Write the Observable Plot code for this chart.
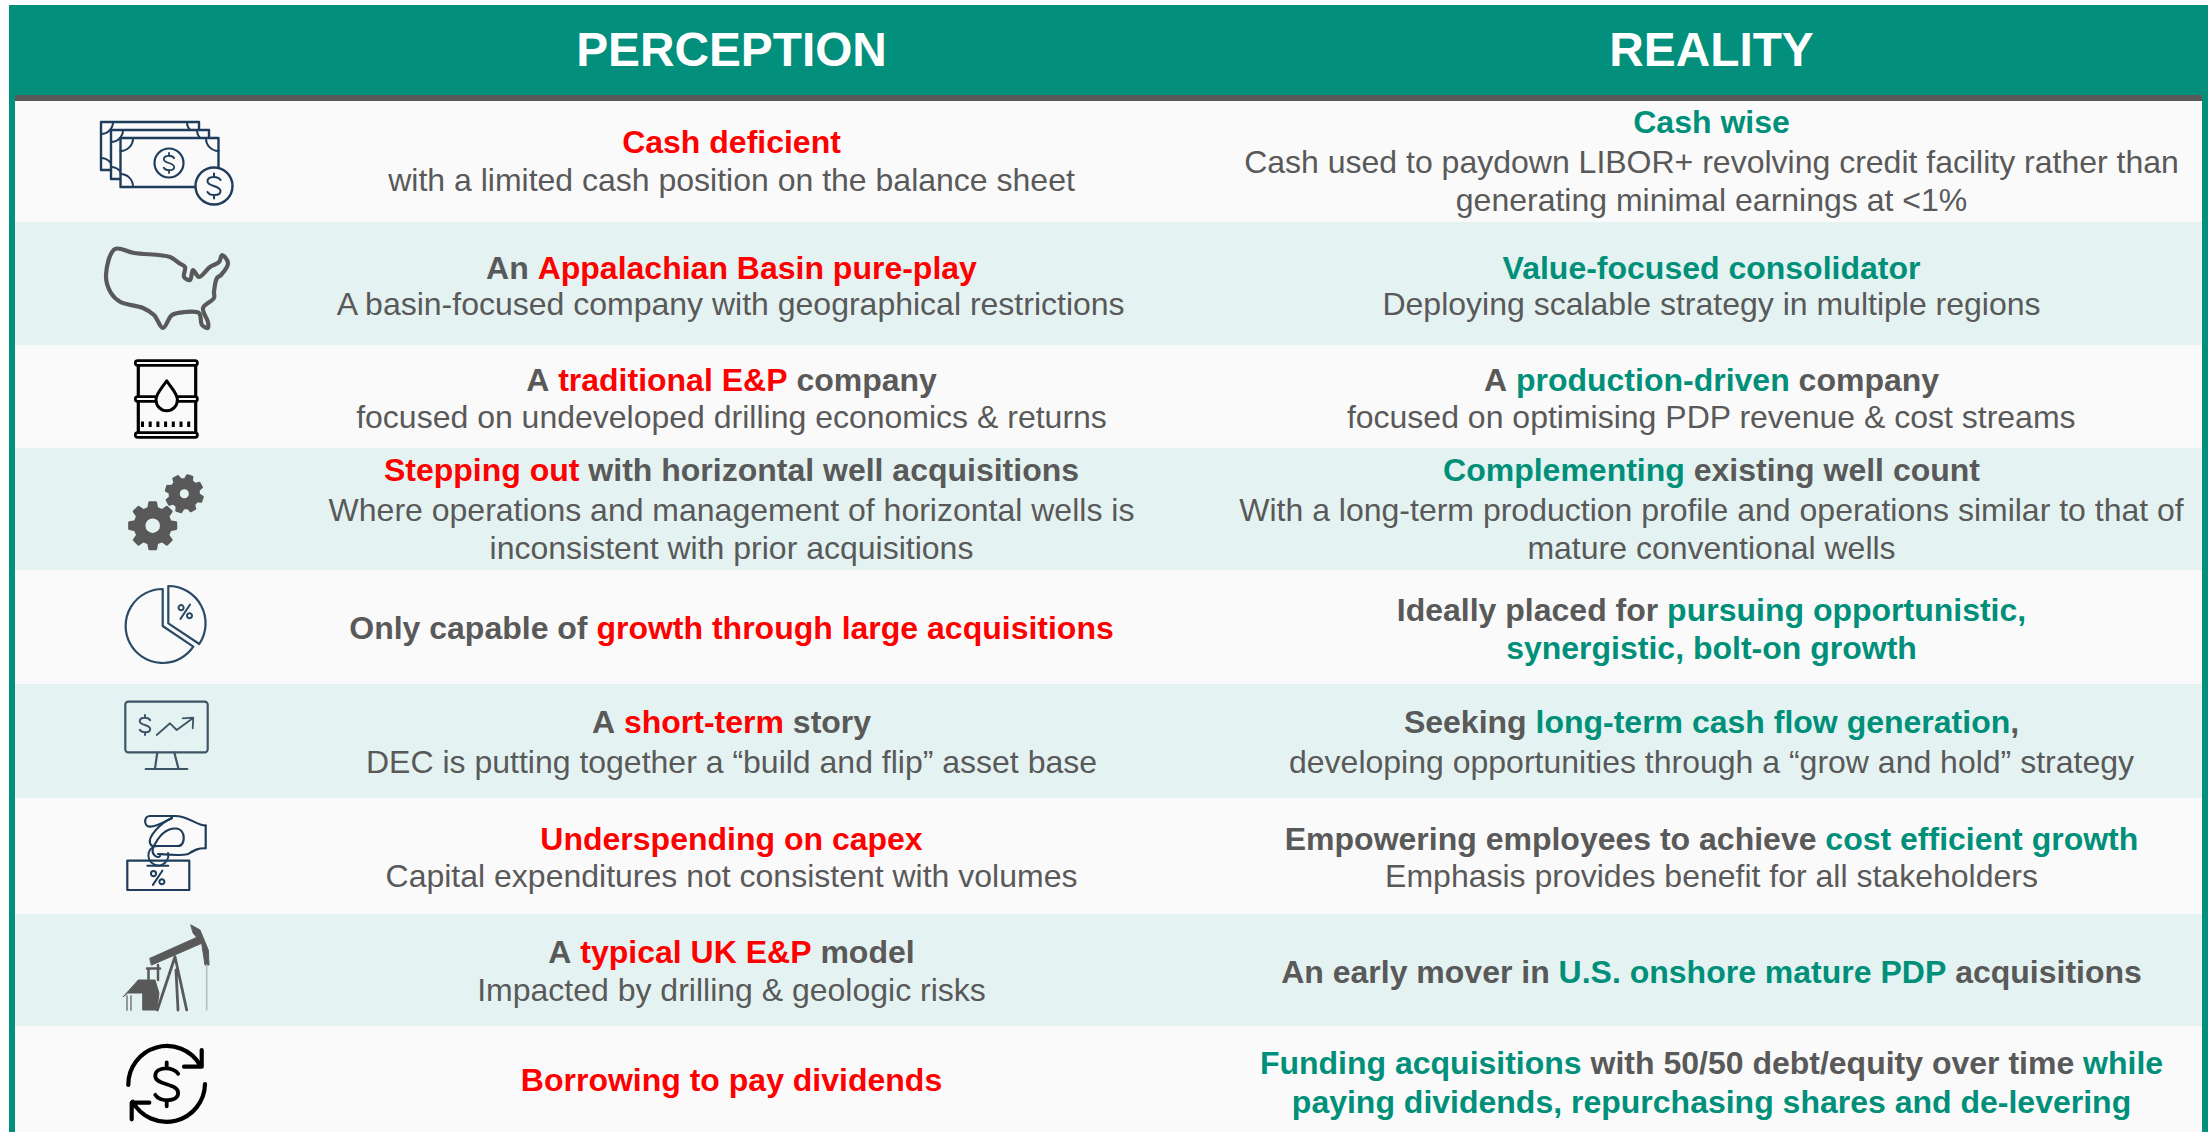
<!DOCTYPE html>
<html><head><meta charset="utf-8">
<script src="https://cdn.jsdelivr.net/npm/d3@7"></script>
<script src="https://cdn.jsdelivr.net/npm/@observablehq/plot@0.6"></script>
<style>html,body{margin:0;padding:0;background:#fff;overflow:hidden}</style>
</head><body><div id="chart"></div>
<script>
// ---- content -------------------------------------------------------------
const columnTitles = ["PERCEPTION", "REALITY"];
// {braces} mark the highlighted words in a line
const perceptionLead = [
  ["{Cash deficient}"],
  ["An {Appalachian Basin pure-play}"],
  ["A {traditional E&P} company"],
  ["{Stepping out} with horizontal well acquisitions"],
  ["Only capable of {growth through large acquisitions}"],
  ["A {short-term} story"],
  ["{Underspending on capex}"],
  ["A {typical UK E&P} model"],
  ["{Borrowing to pay dividends}"]
];
const perceptionBody = [
  ["with a limited cash position on the balance sheet"],
  ["A basin-focused company with geographical restrictions"],
  ["focused on undeveloped drilling economics & returns"],
  ["Where operations and management of horizontal wells is", "inconsistent with prior acquisitions"],
  [],
  ["DEC is putting together a “build and flip” asset base"],
  ["Capital expenditures not consistent with volumes"],
  ["Impacted by drilling & geologic risks"],
  []
];
const realityLead = [
  ["{Cash wise}"],
  ["{Value-focused consolidator}"],
  ["A {production-driven} company"],
  ["{Complementing} existing well count"],
  ["Ideally placed for {pursuing opportunistic,}", "{synergistic, bolt-on growth}"],
  ["Seeking {long-term cash flow generation},"],
  ["Empowering employees to achieve {cost efficient growth}"],
  ["An early mover in {U.S. onshore mature PDP} acquisitions"],
  ["{Funding acquisitions} with 50/50 debt/equity over time {while}", "{paying dividends, repurchasing shares and de-levering}"]
];
const realityBody = [
  ["Cash used to paydown LIBOR+ revolving credit facility rather than", "generating minimal earnings at <1%"],
  ["Deploying scalable strategy in multiple regions"],
  ["focused on optimising PDP revenue & cost streams"],
  ["With a long-term production profile and operations similar to that of", "mature conventional wells"],
  [],
  ["developing opportunities through a “grow and hold” strategy"],
  ["Emphasis provides benefit for all stakeholders"],
  []  ,
  []
];

// ---- layout --------------------------------------------------------------
const W = 2208, H = 1132;
const rowEdges = [101, 222, 345, 448, 570, 684, 798, 914, 1026, 1132];
const columnCentres = [731, 1711];
const perceptionLineY = [[142,180],[268,304],[380,417],[470,510,548],[628],[722,762],[839,876],[952,990],[1080]];
const realityLineY = [[122,162,200],[268,304],[380,417],[470,510,548],[610,648],[722,762],[839,876],[972],[1063,1102]];
const FONT = "Liberation Sans";
const BODY = 32, TITLE = 47.8;
const tones = ["plain", "bad", "good"];
const toneColours = ["#595959", "#FF0000", "#00907A"];
const TEAL = "#028F7B", GREY = "#595959", PAPER = "#FAFAFA", TINT = "#E4F3F1";
const NAVY = "#1F3D5A";

// ---- text runs -----------------------------------------------------------
const ctx = document.createElement("canvas").getContext("2d");
const textWidth = (s, weight) => { ctx.font = `${weight} ${BODY}px "${FONT}"`; return ctx.measureText(s).width; };
function parseRuns(line, accent) {
  return line.split(/(\{[^}]*\})/).filter(s => s).map(s =>
    s[0] === "{" ? {text: s.slice(1, -1), tone: accent} : {text: s, tone: "plain"});
}
function layoutColumn(lead, body, lineY, cx, accent) {
  const out = [];
  lead.forEach((rowLead, r) => {
    const lines = [...rowLead.map(l => ({l, bold: true})), ...body[r].map(l => ({l, bold: false}))];
    lines.forEach(({l, bold}, i) => {
      const w = bold ? "bold" : "normal";
      const runs = parseRuns(l, accent);
      const total = runs.reduce((a, q) => a + textWidth(q.text, w), 0);
      let x = cx - total / 2;
      for (const q of runs) { out.push({...q, bold, x, y: lineY[r][i]}); x += textWidth(q.text, w); }
    });
  });
  return out;
}
const runs = [
  ...layoutColumn(perceptionLead, perceptionBody, perceptionLineY, columnCentres[0], "bad"),
  ...layoutColumn(realityLead, realityBody, realityLineY, columnCentres[1], "good")
];

// ---- pictograms ----------------------------------------------------------
const circ = (x, y, r) => `M${x-r},${y}a${r},${r} 0 1 0 ${2*r},0a${r},${r} 0 1 0 ${-2*r},0Z`;
const box = (x, y, w, h) => `M${x},${y}h${w}v${h}h${-w}Z`;
function dollar(cx, cy, h) {
  const w = h * 0.52;
  return `M${cx+w/2},${cy-h*.24}C${cx+w/3},${cy-h*.4} ${cx-w/2},${cy-h*.42} ${cx-w/2},${cy-h*.19}` +
    `C${cx-w/2},${cy+h*.03} ${cx+w/2},${cy-h*.03} ${cx+w/2},${cy+h*.2}` +
    `C${cx+w/2},${cy+h*.42} ${cx-w/3},${cy+h*.4} ${cx-w/2},${cy+h*.24}` +
    `M${cx},${cy-h/2}V${cy-h*.36}M${cx},${cy+h*.36}V${cy+h/2}`;
}
const pct = (cx, cy, s) => circ(cx-s*.28, cy-s*.27, s*.17) + circ(cx+s*.28, cy+s*.27, s*.17) + `M${cx+s*.32},${cy-s*.48}L${cx-s*.32},${cy+s*.48}`;
function gear(cx, cy, outer, root, hole, n, rot) {
  const st = 2 * Math.PI / n; let d = "";
  for (let i = 0; i < n; i++) {
    const a = rot + i * st;
    const p = (r, t) => `${cx + r * Math.cos(t)},${cy + r * Math.sin(t)}`;
    d += (i ? "L" : "M") + p(root, a - st*.30) + "L" + p(outer, a - st*.17) + "L" + p(outer, a + st*.17) + "L" + p(root, a + st*.30);
  }
  return d + "Z" + circ(cx, cy, hole);
}
const mapOutline = [[15,4],[34,8],[70,12],[79,18],[85,22],[84,32],[90,35],[93,25],[99,32],[110,22],[119,17],[122,10],[128,18],[121,30],[117,33],[114,47],[114,53],[103,63],[108,77],[108,83],[102,80],[99,68],[85,67],[72,70],[63,83],[54,70],[43,63],[20.5,57],[11,48],[6,30]];
const mapPath = d3.line().curve(d3.curveCatmullRomClosed.alpha(0.5))(mapOutline);
const icons = [
  {at: [100, 120], parts: [
    {d: box(1,2,98,48), fill: PAPER, stroke: NAVY, w: 2.4},
    {d: "M1,14A12,12 0 0 0 13,2M87,2A12,12 0 0 0 99,14M1,38A12,12 0 0 1 13,50", stroke: NAVY, w: 2},
    {d: box(11,10,98,49), fill: PAPER, stroke: NAVY, w: 2.4},
    {d: "M11,22A12,12 0 0 0 23,10M97,10A12,12 0 0 0 109,22M11,47A12,12 0 0 1 23,59", stroke: NAVY, w: 2},
    {d: box(20.5,18,98,49), fill: PAPER, stroke: NAVY, w: 2.4},
    {d: "M20.5,31A12.5,12.5 0 0 0 33,18M106,18A12.5,12.5 0 0 0 118.5,31M20.5,54A12.5,12.5 0 0 1 33,67", stroke: NAVY, w: 2},
    {d: circ(69,43,14.5), stroke: NAVY, w: 2.2},
    {d: dollar(69,43,20), stroke: NAVY, w: 1.8},
    {d: circ(114,66,18.5), fill: PAPER, stroke: NAVY, w: 2.4},
    {d: dollar(114,66,25), stroke: NAVY, w: 2}
  ]},
  {at: [100, 245], parts: [
    {d: mapPath, stroke: GREY, w: 4.2}
  ]},
  {at: [130, 355], parts: [
    {d: "M8.3,11V77M65.7,11V77", stroke: "#000", w: 3.2},
    {d: "M7.7,8H65M7.7,44H65M7.7,80H65", stroke: "#000", w: 7.5},
    {d: "M7.7,8H65M7.7,44H65M7.7,80H65", stroke: PAPER, w: 2.2},
    {d: "M36.7,25.7C32,33 26,38 26,45A10.7,10.7 0 0 0 47.4,45C47.4,38 41,33 36.7,25.7Z", fill: PAPER, stroke: "#000", w: 3},
    {d: "M11,69.3H64", stroke: "#000", w: 5.5, dash: "3 4.7"}
  ]},
  {at: [120, 470], parts: [
    {d: gear(32.7,55.7,23.5,18,8.5,8,Math.PI/2), fill: GREY, stroke: GREY, w: 2.5, evenodd: true},
    {d: gear(64.3,23.7,18.5,14.5,5.8,8,0.3), fill: GREY, stroke: GREY, w: 2.5, evenodd: true}
  ]},
  {at: [120, 580], parts: [
    {d: "M42.7,9V46L73.3,66.7A37,37 0 1 1 42.7,9", stroke: "#2B4A66", w: 2.2},
    {d: "M48.3,6A37.3,37.3 0 0 1 79.3,64L48.3,43.3Z", stroke: "#2B4A66", w: 2.2},
    {d: pct(65.3,31.7,15), stroke: "#2B4A66", w: 2}
  ]},
  {at: [120, 700], parts: [
    {d: "M8.3,1.7H84.7A3,3 0 0 1 87.7,4.7V49.3A3,3 0 0 1 84.7,52.3H8.3A3,3 0 0 1 5.3,49.3V4.7A3,3 0 0 1 8.3,1.7Z", stroke: "#3D5566", w: 2.2},
    {d: dollar(25,25,20), stroke: "#3D5566", w: 2},
    {d: "M36.7,35L50,23.3L56.7,30L71.7,19M62.7,18.3L73.3,17.7L72.7,28.3", stroke: "#3D5566", w: 1.8},
    {d: "M37.3,52.5L35,68.3M54.3,52.5L58.3,68M25.7,69H67.3", stroke: "#3D5566", w: 2.2}
  ]},
  {at: [120, 815], parts: [
    {d: box(7.3,45.7,62,29.3), stroke: NAVY, w: 2.2},
    {d: pct(37.7,62.7,15), stroke: NAVY, w: 2},
    {d: "M27.3,50.7H48.3", stroke: NAVY, w: 2},
    {d: "M33,32A10,10 0 1 0 48,38", stroke: NAVY, w: 2},
    {d: "M85.7,10.7V33.3C78,33 75,35 68,39C60,41 50,40 38,39", stroke: NAVY, w: 2.2},
    {d: "M85.7,10.7C76,10 68,1 55,1H30C24,1 23,11 30,11.7C36,12 42,8 52,3", stroke: NAVY, w: 2.2},
    {d: "M52,3C40,8 28,22 30,28C31,32 34,31 38,31H58C66,31 66,14 56,13.5C46,13 38,22 33,33C31,40 38,44 40,41", stroke: NAVY, w: 2.2}
  ]},
  {at: [120, 925], parts: [
    {d: "M30,33.3L78.3,11.7L81.7,18.3L31.7,40Z", fill: GREY, stroke: GREY, w: 1},
    {d: "M71,0L80,5L88.3,25L89,40L85,40L81.7,18.3L73.3,8.3Z", fill: GREY, stroke: GREY, w: 1},
    {d: "M86.7,40V85", stroke: "#B9BFBE", w: 1.6},
    {d: "M55,31.7L37.3,85M55,31.7L66.7,85M56,45L58,85", stroke: GREY, w: 2.8},
    {d: "M28.5,43.5V54M38,40V55M27,43.5H40", stroke: GREY, w: 2.5},
    {d: "M3.3,71.7L18.3,55H35L39,68.3L36.7,85H22.7V68H8Z", fill: GREY, stroke: GREY, w: 1},
    {d: "M7,71V85M11,71V85", stroke: "#8A8F8E", w: 1.8}
  ]},
  {at: [130, 1045], parts: [
    {d: "M-1.7,40A38.5,38.5 0 0 1 70,20M54,21.7H71.7V5", stroke: "#000", w: 4.2},
    {d: "M75,39A38.5,38.5 0 0 1 2.7,56.7M19.3,57.7H1.7V74.3", stroke: "#000", w: 4.2},
    {d: dollar(36.7,39.3,44), stroke: "#000", w: 3.8}
  ]}
];
function pictograms(index, {x, y}) {
  const g = d3.create("svg:g");
  for (const icon of icons) {
    const ig = g.append("g").attr("transform", `translate(${x(icon.at[0])},${y(icon.at[1])})`);
    for (const p of icon.parts) {
      ig.append("path").attr("d", p.d)
        .attr("fill", p.fill || "none").attr("fill-rule", p.evenodd ? "evenodd" : null)
        .attr("stroke", p.stroke).attr("stroke-width", p.w)
        .attr("stroke-dasharray", p.dash || null)
        .attr("stroke-linecap", p.dash ? "butt" : "round").attr("stroke-linejoin", "round");
    }
  }
  return g.node();
}

// ---- chart ---------------------------------------------------------------
const bands = rowEdges.slice(0, -1).map((y1, i) => ({y1, y2: rowEdges[i + 1], i}));
const frame = [
  {x1: 9, x2: W, y1: 5, y2: 95, c: TEAL},
  {x1: 15, x2: W - 6, y1: 95, y2: 101, c: GREY},
  {x1: 9, x2: 15, y1: 95, y2: H, c: TEAL},
  {x1: W - 6, x2: W, y1: 95, y2: H, c: TEAL}
];
const chart = Plot.plot({
  width: W, height: H, margin: 0,
  style: {background: "transparent", fontFamily: FONT},
  x: {domain: [0, W], range: [0, W], axis: null},
  y: {domain: [0, H], range: [0, H], axis: null},
  color: {domain: tones, range: toneColours},
  marks: [
    Plot.rect(bands.filter(d => d.i % 2 === 0), {x1: () => 15, x2: () => W - 6, y1: "y1", y2: "y2", fill: PAPER}),
    Plot.rect(bands.filter(d => d.i % 2 === 1), {x1: () => 15, x2: () => W - 6, y1: "y1", y2: "y2", fill: TINT}),
    ...frame.map(f => Plot.rect([f], {x1: "x1", x2: "x2", y1: "y1", y2: "y2", fill: f.c})),
    Plot.text(columnTitles, {x: (d, i) => columnCentres[i], y: () => 50, text: d => d, fill: "#fff",
      fontSize: TITLE, fontWeight: "bold", fontFamily: FONT}),
    Plot.text(runs.filter(d => d.bold), {x: "x", y: "y", text: "text", fill: "tone", textAnchor: "start",
      fontSize: BODY, fontWeight: "bold", fontFamily: FONT}),
    Plot.text(runs.filter(d => !d.bold), {x: "x", y: "y", text: "text", fill: "tone", textAnchor: "start",
      fontSize: BODY, fontFamily: FONT}),
    pictograms
  ]
});
document.getElementById("chart").append(chart);
</script></body></html>
